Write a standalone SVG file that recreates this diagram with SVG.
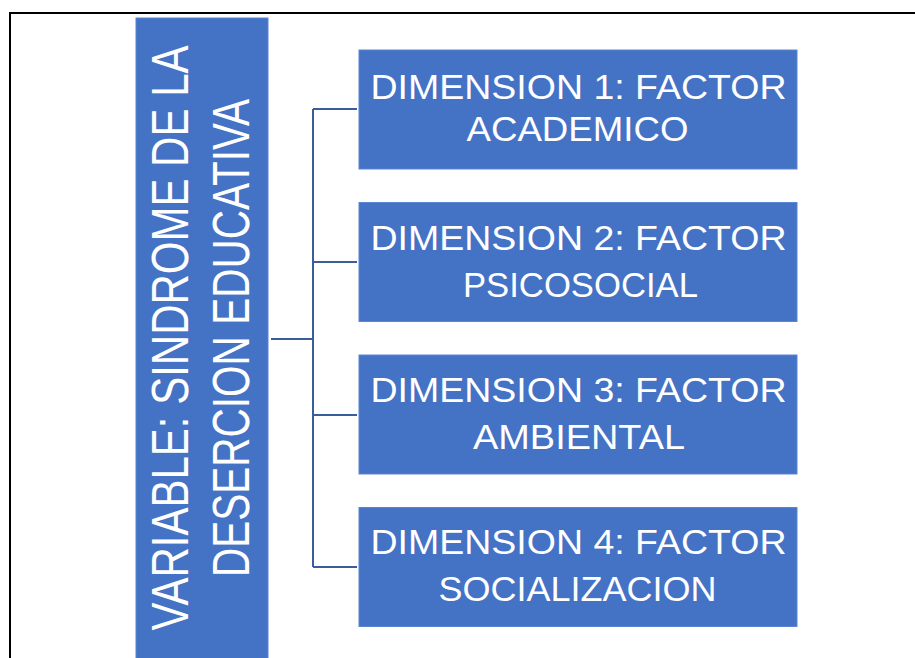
<svg xmlns="http://www.w3.org/2000/svg" width="915" height="658" viewBox="0 0 915 658">
<style>
.box{fill:#4472C4;stroke:#5B86D0;stroke-width:1}
.t{font-family:"Liberation Sans",Arial,sans-serif;fill:#FFFFFF;text-anchor:middle}
.dt{font-size:35px}
.mt{font-size:51px}
.conn{fill:none;stroke:#3A5D9C;stroke-width:2}
</style>
<rect x="0" y="0" width="915" height="658" fill="#FFFFFF"/>
<g id="frame">
<line x1="10" y1="13" x2="915" y2="13" stroke="#000000" stroke-width="2"/>
<line x1="10" y1="12" x2="10" y2="658" stroke="#000000" stroke-width="2"/>
</g>
<g id="connectors">
<path class="conn" d="M271,339 H313"/>
<path class="conn" d="M313,109 V567"/>
<path class="conn" d="M313,109 H357"/>
<path class="conn" d="M313,262 H357"/>
<path class="conn" d="M313,415 H357"/>
<path class="conn" d="M313,567 H357"/>
</g>
<g id="variable">
<rect class="box" x="136" y="18" width="132" height="645"/>
<g transform="translate(0,338) rotate(-90)">
<text class="t mt" x="0" y="188" textLength="585" lengthAdjust="spacingAndGlyphs">VARIABLE: SINDROME DE LA</text>
<text class="t mt" x="0" y="249" textLength="478" lengthAdjust="spacingAndGlyphs">DESERCION EDUCATIVA</text>
</g>
</g>
<g id="dim1">
<rect class="box" x="359" y="50" width="438" height="119"/>
<text class="t dt" x="578.5" y="99" textLength="416" lengthAdjust="spacingAndGlyphs">DIMENSION 1: FACTOR</text>
<text class="t dt" x="577.5" y="141" textLength="222" lengthAdjust="spacingAndGlyphs">ACADEMICO</text>
</g>
<g id="dim2">
<rect class="box" x="359" y="202.5" width="438" height="119"/>
<text class="t dt" x="578.5" y="250" textLength="416" lengthAdjust="spacingAndGlyphs">DIMENSION 2: FACTOR</text>
<text class="t dt" x="580.5" y="296.5" textLength="235" lengthAdjust="spacingAndGlyphs">PSICOSOCIAL</text>
</g>
<g id="dim3">
<rect class="box" x="359" y="355" width="438" height="119"/>
<text class="t dt" x="578.5" y="402" textLength="416" lengthAdjust="spacingAndGlyphs">DIMENSION 3: FACTOR</text>
<text class="t dt" x="579" y="449" textLength="212" lengthAdjust="spacingAndGlyphs">AMBIENTAL</text>
</g>
<g id="dim4">
<rect class="box" x="359" y="507.5" width="438" height="119"/>
<text class="t dt" x="578.5" y="554" textLength="416" lengthAdjust="spacingAndGlyphs">DIMENSION 4: FACTOR</text>
<text class="t dt" x="577.5" y="601" textLength="278" lengthAdjust="spacingAndGlyphs">SOCIALIZACION</text>
</g>
</svg>
